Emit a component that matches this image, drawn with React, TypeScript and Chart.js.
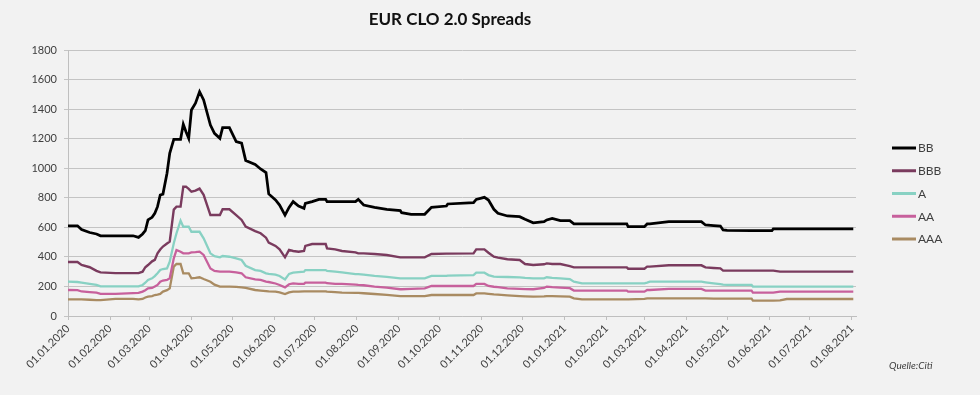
import React, { useEffect, useRef } from "react";
import { Chart, registerables } from "chart.js";

Chart.register(...registerables);

const dates = [
  "2020-01-01", "2020-01-08", "2020-01-11", "2020-01-17", "2020-01-22", "2020-01-25",
  "2020-02-05", "2020-02-18", "2020-02-22", "2020-02-25", "2020-02-27", "2020-02-29",
  "2020-03-03", "2020-03-05", "2020-03-07", "2020-03-09", "2020-03-11", "2020-03-14",
  "2020-03-16", "2020-03-19", "2020-03-21", "2020-03-24", "2020-03-26", "2020-03-28",
  "2020-03-30", "2020-04-01", "2020-04-04", "2020-04-07", "2020-04-10", "2020-04-15",
  "2020-04-18", "2020-04-22", "2020-04-24", "2020-04-29", "2020-05-04", "2020-05-08",
  "2020-05-11", "2020-05-18", "2020-05-22", "2020-05-26", "2020-05-28", "2020-06-02",
  "2020-06-05", "2020-06-09", "2020-06-12", "2020-06-15", "2020-06-19", "2020-06-23",
  "2020-06-24", "2020-06-29", "2020-07-04", "2020-07-09", "2020-07-10", "2020-07-16",
  "2020-07-21", "2020-07-31", "2020-08-02", "2020-08-06", "2020-08-14", "2020-08-23",
  "2020-09-02", "2020-09-03", "2020-09-10", "2020-09-20", "2020-09-25", "2020-10-06",
  "2020-10-07", "2020-10-26", "2020-10-28", "2020-11-03", "2020-11-06", "2020-11-10",
  "2020-11-13", "2020-11-20", "2020-11-29", "2020-12-03", "2020-12-09", "2020-12-17",
  "2020-12-19", "2020-12-23", "2020-12-29", "2021-01-05", "2021-01-08", "2021-01-14",
  "2021-02-16", "2021-02-17", "2021-03-01", "2021-03-03", "2021-03-05", "2021-03-19",
  "2021-04-12", "2021-04-15", "2021-04-21", "2021-04-26", "2021-04-28", "2021-05-01",
  "2021-05-19", "2021-05-20", "2021-06-03", "2021-06-04", "2021-06-09", "2021-06-14",
  "2021-08-02",
];

const bb = [
  610, 610, 585, 565, 555, 543, 543, 543, 532, 555, 577, 650,
  668, 695, 740, 819, 825, 966, 1101, 1196, 1196, 1196, 1297, 1247,
  1202, 1394, 1440, 1518, 1462, 1292, 1236, 1202, 1274, 1274, 1180, 1170,
  1053, 1025, 995, 970, 826, 785, 751, 683, 735, 774, 744, 729,
  762, 774, 789, 789, 774, 774, 774, 774, 789, 751, 735, 722,
  713, 699, 688, 688, 735, 744, 758, 767, 789, 803, 785, 722,
  695, 677, 672, 654, 631, 638, 650, 661, 645, 645, 623, 623,
  623, 604, 604, 623, 623, 638, 638, 616, 612, 609, 582, 580,
  577, 577, 577, 589, 589, 589, 589,
];

const bbb = [
  365, 365, 345, 330, 305, 295, 290, 290, 290, 300, 330, 345,
  370, 380, 424, 450, 470, 490, 503, 720, 740, 740, 875, 875,
  860, 841, 848, 862, 820, 683, 683, 683, 722, 722, 683, 650,
  605, 575, 560, 530, 496, 474, 451, 397, 447, 440, 435, 440,
  474, 487, 487, 487, 458, 451, 440, 431, 424, 424, 420, 413,
  397, 397, 397, 397, 420, 422, 422, 424, 451, 451, 428, 401,
  395, 384, 379, 352, 345, 350, 356, 352, 352, 338, 329, 329,
  329, 320, 320, 334, 334, 343, 343, 329, 325, 322, 307, 307,
  307, 307, 307, 307, 300, 300, 300,
];

const a = [
  232, 230, 226, 217, 210, 200, 200, 200, 200, 210, 225, 244,
  255, 270, 289, 311, 318, 322, 367, 492, 560, 645, 604, 604,
  604, 570, 570, 570, 526, 424, 405, 397, 406, 401, 390, 379,
  340, 311, 305, 289, 285, 280, 271, 248, 285, 293, 297, 300,
  311, 311, 311, 311, 305, 300, 295, 284, 284, 280, 271, 265,
  255, 255, 255, 255, 271, 271, 273, 277, 293, 293, 277, 266,
  265, 264, 262, 258, 255, 255, 262, 258, 255, 250, 232, 221,
  221, 221, 221, 226, 232, 232, 232, 228, 221, 215, 212, 210,
  210, 199, 199, 199, 199, 199, 199,
];

const aa = [
  176, 175, 166, 162, 158, 150, 150, 155, 156, 165, 175, 187,
  190, 199, 210, 232, 240, 244, 255, 390, 447, 435, 424, 424,
  424, 430, 432, 435, 413, 322, 305, 300, 300, 300, 295, 289,
  262, 248, 244, 232, 230, 220, 210, 194, 215, 221, 217, 217,
  226, 226, 226, 226, 222, 217, 217, 212, 210, 208, 199, 192,
  181, 181, 183, 187, 203, 203, 203, 203, 217, 217, 203, 198,
  195, 187, 184, 182, 181, 190, 199, 195, 192, 188, 172, 172,
  172, 165, 165, 176, 176, 183, 183, 172, 172, 172, 172, 172,
  172, 158, 158, 158, 165, 165, 165,
];

const aaa = [
  113, 113, 112, 110, 108, 108, 116, 116, 112, 115, 125, 131,
  135, 142, 145, 150, 165, 175, 187, 334, 352, 352, 289, 289,
  289, 255, 258, 262, 250, 232, 212, 199, 199, 199, 197, 194,
  190, 176, 172, 168, 166, 165, 160, 149, 160, 165, 165, 167,
  167, 167, 167, 167, 165, 162, 158, 156, 156, 154, 149, 143,
  135, 135, 135, 135, 142, 142, 142, 142, 153, 153, 150, 146,
  144, 140, 135, 133, 131, 133, 135, 135, 133, 131, 119, 113,
  113, 113, 116, 119, 119, 119, 119, 119, 118, 118, 118, 118,
  118, 104, 104, 104, 106, 115, 115,
];

const seriesLabels = ["BB", "BBB", "A", "AA", "AAA"];

const xTickLabels = [
  "01.01.2020", "01.02.2020", "01.03.2020", "01.04.2020", "01.05.2020", "01.06.2020",
  "01.07.2020", "01.08.2020", "01.09.2020", "01.10.2020", "01.11.2020", "01.12.2020",
  "01.01.2021", "01.02.2021", "01.03.2021", "01.04.2021", "01.05.2021", "01.06.2021",
  "01.07.2021", "01.08.2021",
];

const titleText = "EUR CLO 2.0 Spreads";
const sourceText = "Quelle:Citi";

const EPOCH = Date.UTC(2020, 0, 1);
const isoToDay = (s: string) => {
  const [y, m, d] = s.split("-").map(Number);
  return Math.round((Date.UTC(y, m - 1, d) - EPOCH) / 86400000);
};
const deToDay = (s: string) => {
  const [d, m, y] = s.split(".").map(Number);
  return Math.round((Date.UTC(y, m - 1, d) - EPOCH) / 86400000);
};

const colors = ["#000000", "#7a3b5e", "#88d1c3", "#c7609c", "#a98b62"];
const widths = [2.75, 2.4, 2.3, 2.3, 2.3];

const overlayPlugin = {
  id: "overlay",
  afterDraw(chart: any) {
    const ctx = chart.ctx;
    ctx.save();
    // title
    ctx.fillStyle = "#111111";
    ctx.font = "bold 17px Lato";
    ctx.textAlign = "center";
    ctx.textBaseline = "middle";
    ctx.fillText(titleText, 450, 20);
    // legend
    chart.data.datasets.forEach((ds: any, i: number) => {
      const y = 148 + i * 22.75;
      ctx.strokeStyle = ds.borderColor;
      ctx.lineWidth = 3;
      ctx.beginPath();
      ctx.moveTo(892, y);
      ctx.lineTo(916, y);
      ctx.stroke();
      ctx.fillStyle = "#404040";
      ctx.font = "12px Lato";
      ctx.textBaseline = "middle";
      ctx.textAlign = "left";
      ctx.fillText(ds.label, 918, y + 0.5);
    });
    // source
    ctx.font = "italic 10px Lato";
    ctx.fillStyle = "#404040";
    ctx.textAlign = "left";
    ctx.textBaseline = "middle";
    ctx.fillText(sourceText, 889, 366);
    ctx.restore();
  },
};

export default function App() {
  const ref = useRef<HTMLCanvasElement | null>(null);
  useEffect(() => {
    document.body.style.margin = "0";
    document.body.style.background = "#f2f2f2";
    const xs = dates.map(isoToDay);
    const all = [bb, bbb, a, aa, aaa];
    const tickDays = xTickLabels.map(deToDay);
    const chart = new Chart(ref.current as HTMLCanvasElement, {
      type: "line",
      data: {
        datasets: all.map((vals, i) => ({
          label: seriesLabels[i],
          data: vals.map((v, j) => ({ x: xs[j], y: v })),
          borderColor: colors[i],
          backgroundColor: colors[i],
          borderWidth: widths[i],
          pointRadius: 0,
          tension: 0,
          fill: false,
          order: i,
        })),
      },
      options: {
        animation: false,
        responsive: false,
        maintainAspectRatio: false,
        layout: { padding: { left: 0, right: 124, top: 50, bottom: 0 } },
        plugins: {
          legend: { display: false },
          tooltip: { enabled: false },
          title: { display: false },
        },
        scales: {
          x: {
            type: "linear",
            min: 0,
            max: 581,
            afterBuildTicks: (scale: any) => {
              scale.ticks = tickDays.map((v) => ({ value: v }));
            },
            afterFit: (scale: any) => {
              scale.height = 79;
            },
            ticks: {
              autoSkip: false,
              maxRotation: 45,
              minRotation: 45,
              padding: 2,
              color: "#404040",
              font: { family: "Lato", size: 11 },
              callback: (_v: any, i: number) => xTickLabels[i],
            },
            grid: {
              drawOnChartArea: false,
              drawTicks: true,
              tickLength: 4,
              color: "#bfbfbf",
            },
            border: { color: "#bfbfbf", width: 1 },
          },
          y: {
            min: 0,
            max: 1800,
            afterFit: (scale: any) => {
              scale.width = 68;
            },
            ticks: {
              stepSize: 200,
              padding: 7,
              color: "#404040",
              font: { family: "Lato", size: 11 },
              callback: (v: any) => String(v),
            },
            grid: { color: "#c4c4c4", tickLength: 4, lineWidth: 1 },
            border: { color: "#bfbfbf", width: 1 },
          },
        },
      } as any,
      plugins: [overlayPlugin],
    });
    return () => chart.destroy();
  }, []);
  return (
    <div style={{ width: 980, height: 395, background: "#f2f2f2" }}>
      <canvas ref={ref} width={980} height={395} />
    </div>
  );
}
